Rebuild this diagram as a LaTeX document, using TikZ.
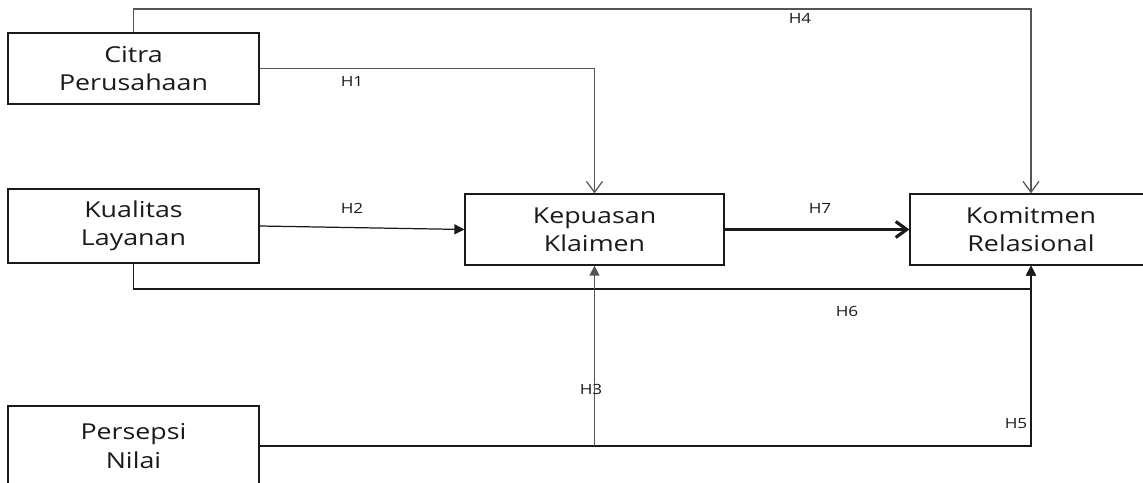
\documentclass[tikz,border=0pt]{standalone}
\usepackage{fontspec}
\setmainfont{Open Sans}[FakeStretch=1.22]
\usepackage{tikz}
\usetikzlibrary{positioning,calc,arrows.meta}
\usepackage{xcolor}
\definecolor{ink}{HTML}{1A1A1A}
\definecolor{edge}{HTML}{555555}
\newcommand{\Wb}{251}
\newcommand{\Hb}{71}

\begin{document}
\begin{tikzpicture}[x=0.02cm,y=-0.02cm, every node/.style={text=ink}, line width=0.7pt,
  box/.style={draw=ink, rectangle, minimum width=\Wb*0.02cm, minimum height=\Hb*0.02cm, align=center, font=\fontsize{12.5}{16}\selectfont, inner sep=0pt},
  hyp/.style={font=\fontsize{8}{9}\selectfont, inner sep=0pt},
  open/.style={-{Straight Barb[length=2.2mm,width=3.2mm]}},
  solid tip/.style={-{Triangle[length=2mm,width=2mm]}}]
\useasboundingbox (0,0) rectangle (1143,483);
% ---- exogenous constructs on the left
\node[box] (cit) at (133.5,68.5) {Citra\\Perusahaan};
\node[box, minimum height=74*0.02cm] (kual) at (133.5,226) {Kualitas\\Layanan};
\node[box, minimum height=80*0.02cm] (pers) at (133.5,446) {Persepsi\\Nilai};
% ---- mediator and outcome
\node[box, minimum width=259*0.02cm] (kep) at (594.5,229.5) {Kepuasan\\Klaimen};
\node[box, minimum width=242*0.02cm] (kom) at (1031,229.5) {Komitmen\\Relasional};
% ---- helper corners for the routed paths
\coordinate (top4) at (133.5,9);
\coordinate (low6) at (133.5,289);
\coordinate (fork3) at (kep.south |- pers.east);
% ---- paths
\draw[edge, open] (cit.north) -- (top4) -| (kom.north);
\draw[edge, open] (cit.east) -| (kep.north);
\draw[ink, solid tip] (kual.east) -- (kep.west);
\draw[ink, line width=1.8pt, open] (kep.east) -- (kom.west);
\draw[ink, solid tip] (kual.south) -- (low6) -| (kom.south);
\draw[ink, solid tip] (pers.east) -| (kom.south);
\draw[edge, solid tip] (fork3) -- (kep.south);
% ---- hypothesis labels
\node[hyp] (h4) at (800,18) {H4};
\node[hyp] (h1) at (352,81) {H1};
\node[hyp] (h2) at (352,208) {H2};
\node[hyp] (h7) at (820,208) {H7};
\node[hyp] (h6) at (847,311) {H6};
\node[hyp] (h3) at (591,389) {H3};
\node[hyp] (h5) at (1016,424) {H5};
\end{tikzpicture}
\end{document}
